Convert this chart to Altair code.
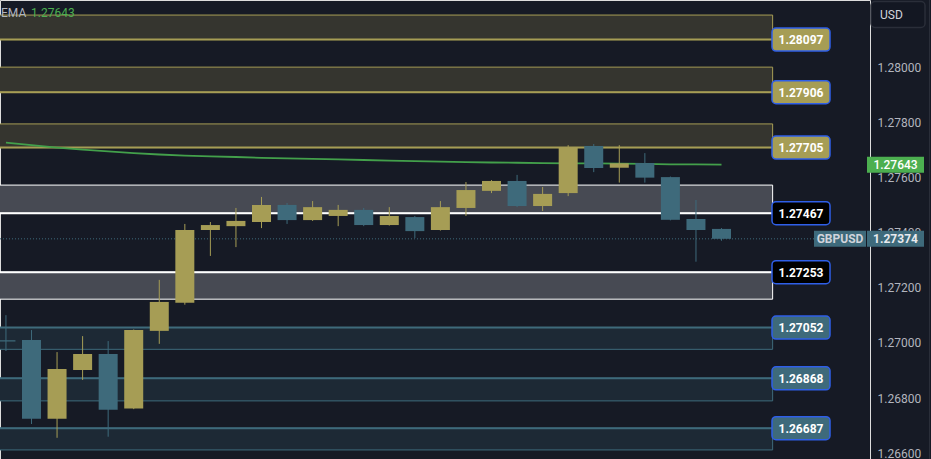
import altair as alt
import pandas as pd

# ---------------- data ----------------
idx = list(range(29))
opens = [1.27006, 1.27007, 1.26721, 1.26898, 1.26956, 1.26758, 1.27040, 1.27142, 1.27406, 1.27420,
         1.27435, 1.27497, 1.27442, 1.27457, 1.27479, 1.27424, 1.27453, 1.27406, 1.27486, 1.27548,
         1.27584, 1.27493, 1.27540, 1.27711, 1.27632, 1.27649, 1.27598, 1.27446, 1.27410]
highs = [1.27097, 1.27043, 1.26963, 1.27021, 1.27003, 1.27045, 1.27225, 1.27428, 1.27435, 1.27486,
         1.27526, 1.27504, 1.27511, 1.27497, 1.27486, 1.27489, 1.27457, 1.27511, 1.27580, 1.27587,
         1.27606, 1.27562, 1.27714, 1.27718, 1.27714, 1.27685, 1.27600, 1.27515, 1.27413]
lows = [1.26967, 1.26702, 1.26652, 1.26862, 1.26656, 1.26756, 1.26993, 1.27135, 1.27312, 1.27344,
        1.27413, 1.27428, 1.27439, 1.27420, 1.27420, 1.27422, 1.27377, 1.27404, 1.27457, 1.27540,
        1.27489, 1.27475, 1.27529, 1.27616, 1.27578, 1.27578, 1.27441, 1.27291, 1.27367]
closes = [1.27001, 1.26721, 1.26902, 1.26956, 1.26754, 1.27043, 1.27145, 1.27406, 1.27424, 1.27439,
          1.27497, 1.27442, 1.27489, 1.27479, 1.27424, 1.27457, 1.27402, 1.27489, 1.27551, 1.27584,
          1.27493, 1.27537, 1.27707, 1.27631, 1.27648, 1.27596, 1.27443, 1.27406, 1.27374]
ema = [1.27723, 1.27714, 1.27705, 1.27698, 1.27691, 1.27685, 1.27680, 1.27676, 1.27673, 1.27671,
       1.27668, 1.27666, 1.27664, 1.27662, 1.27660, 1.27658, 1.27656, 1.27654, 1.27652, 1.27651,
       1.27650, 1.27649, 1.27648, 1.27648, 1.27647, 1.27646, 1.27644, 1.27644, 1.27643]

zone_tops = [1.28186, 1.27997, 1.27791, 1.27569, 1.27253, 1.27052, 1.26868, 1.26687]
zone_bottoms = [1.28097, 1.27906, 1.27705, 1.27467, 1.27155, 1.26973, 1.26786, 1.26608]
zone_levels = [1.28097, 1.27906, 1.27705, 1.27467, 1.27253, 1.27052, 1.26868, 1.26687]
zone_kinds = ["res", "res", "res", "mid", "mid", "sup", "sup", "sup"]
zone_start, zone_end = -1, 30

axis_ticks = [1.266, 1.268, 1.270, 1.272, 1.274, 1.276, 1.278, 1.280]
last_price = 1.27374
ema_last = 1.27643
symbol = "GBPUSD"
currency = "USD"

# ---------------- styles ----------------
BG = "#161a25"
BULL = "#a69d55"
BEAR = "#3e6a7b"
FONT = "Roboto"
kind_dom = ["res", "mid", "sup"]
zone_fill = ["#35352f", "#474a53", "#1d2935"]
zone_line = ["#a69d55", "#ffffff", "#3e6a7b"]
label_fill = ["#a69d55", "#000000", "#3e6a7b"]

xs = alt.Scale(domain=[-0.2324, 33.81], nice=False, zero=False)
ys = alt.Scale(domain=[1.265751, 1.282406], nice=False, zero=False)
yax = alt.Axis(orient="right", values=axis_ticks, format=".5f", labelColor="#b2b5be",
               labelFontSize=12, labelFont=FONT, domain=False, ticks=False, tickSize=0,
               grid=False, labelPadding=7, labelAlign="left", title=None, labelOffset=1)

candles = pd.DataFrame({"i": idx, "open": opens, "high": highs, "low": lows, "close": closes, "ema": ema})
candles["dir"] = ["up" if c >= o else "down" for o, c in zip(opens, closes)]
zones = pd.DataFrame({"top": zone_tops, "bottom": zone_bottoms, "lvl": zone_levels, "kind": zone_kinds,
                      "x0": [zone_start] * 8, "x1": [zone_end] * 8})
one = pd.DataFrame({"p": [last_price], "e": [ema_last], "sym": [symbol], "cur": [currency]})

X = lambda f: alt.X(f, type="quantitative", scale=xs, axis=None)
Y = lambda f: alt.Y(f, type="quantitative", scale=ys, axis=yax)
dircol = alt.Color("dir:N", scale=alt.Scale(domain=["up", "down"], range=[BULL, BEAR]), legend=None)

zone_rect = alt.Chart(zones).mark_rect(strokeWidth=1, clip=True).encode(
    x=X("x0"), x2="x1", y=Y("top"), y2="bottom",
    fill=alt.Fill("kind:N", scale=alt.Scale(domain=kind_dom, range=zone_fill), legend=None),
    stroke=alt.Stroke("kind:N", scale=alt.Scale(domain=kind_dom, range=zone_line), legend=None),
)
zone_main = alt.Chart(zones).mark_rule(strokeWidth=2, clip=True).encode(
    x=X("x0"), x2="x1", y=Y("lvl"),
    color=alt.Color("kind:N", scale=alt.Scale(domain=kind_dom, range=zone_line), legend=None),
)
price_line = alt.Chart(one).mark_rule(strokeDash=[1, 2], color=BEAR, strokeWidth=1).encode(
    x=alt.value(0), x2=alt.value(814), y=Y("p"))
ema_line = alt.Chart(candles).mark_line(color="#43a04b", strokeWidth=1.8).encode(
    x=X("i"), y=Y("ema"))
wicks = alt.Chart(candles).mark_rule(strokeWidth=1).encode(
    x=X("i"), y=Y("low"), y2="high", color=dircol)
bodies = alt.Chart(candles).mark_rect(xOffset=-9.5, x2Offset=9.5).encode(
    x=X("i"), x2="i", y=Y("open"), y2="close", color=dircol)

lab_box = alt.Chart(zones).mark_rect(cornerRadius=4, stroke="#2f5fe8", strokeWidth=1.5,
                                     yOffset=-11.5, y2Offset=11.5).encode(
    x=alt.value(772), x2=alt.value(830), y=Y("lvl"), y2="lvl",
    fill=alt.Fill("kind:N", scale=alt.Scale(domain=kind_dom, range=label_fill), legend=None),
)
lab_txt = alt.Chart(zones).mark_text(font=FONT, fontSize=12, fontWeight="bold", color="#ffffff",
                                     align="center", baseline="middle", dy=0.5).encode(
    x=alt.value(801), y=Y("lvl"), text=alt.Text("lvl:Q", format=".5f"))

ema_tag = alt.Chart(one).mark_rect(color="#4caf50", yOffset=-8, y2Offset=8).encode(
    x=alt.value(867), x2=alt.value(924), y=Y("e"), y2="e")
ema_tag_t = alt.Chart(one).mark_text(font=FONT, fontSize=12, fontWeight=500, color="#ffffff",
                                     align="center", baseline="middle", dy=0.5).encode(
    x=alt.value(895.5), y=Y("e"), text=alt.Text("e:Q", format=".5f"))
sym_tag = alt.Chart(one).mark_rect(color=BEAR, yOffset=-8, y2Offset=8).encode(
    x=alt.value(814), x2=alt.value(866), y=Y("p"), y2="p")
sym_tag_t = alt.Chart(one).mark_text(font=FONT, fontSize=12, fontWeight="bold", color="#d1d4dc",
                                     align="center", baseline="middle", dy=0.5).encode(
    x=alt.value(840), y=Y("p"), text="sym:N")
px_tag = alt.Chart(one).mark_rect(color=BEAR, yOffset=-8, y2Offset=8).encode(
    x=alt.value(867), x2=alt.value(924), y=Y("p"), y2="p")
px_tag_t = alt.Chart(one).mark_text(font=FONT, fontSize=12, fontWeight="bold", color="#e8eaee",
                                    align="center", baseline="middle", dy=0.5).encode(
    x=alt.value(895.5), y=Y("p"), text=alt.Text("p:Q", format=".5f"))

legend_a = alt.Chart(one).mark_text(font=FONT, fontSize=12, color="#b2b5be", align="left",
                                    baseline="middle").encode(
    x=alt.value(1), y=alt.value(12.5), text=alt.value("EMA"))
legend_b = alt.Chart(one).mark_text(font=FONT, fontSize=12, color="#4caf50", align="left",
                                    baseline="middle").encode(
    x=alt.value(31), y=alt.value(12.5), text=alt.Text("e:Q", format=".5f"))
usd_box = alt.Chart(one).mark_rect(cornerRadius=4, fill="#131722", stroke="#2a2e39", strokeWidth=1.5).encode(
    x=alt.value(871), x2=alt.value(925), y=alt.value(1.5), y2=alt.value(27.5))
usd_txt = alt.Chart(one).mark_text(font=FONT, fontSize=12, color="#d1d4dc", align="left",
                                   baseline="middle").encode(
    x=alt.value(880), y=alt.value(15), text="cur:N")
edge = alt.Chart(one).mark_rule(color="#2a2e39", strokeWidth=1).encode(
    x=alt.value(929.5), y=alt.value(0), y2=alt.value(459))

chart = alt.layer(
    zone_rect, zone_main, price_line, ema_line, wicks, bodies,
    lab_box, lab_txt, ema_tag, ema_tag_t, sym_tag, sym_tag_t, px_tag, px_tag_t,
    legend_a, legend_b, usd_box, usd_txt, edge,
).resolve_scale(
    color="independent", fill="independent", stroke="independent",
).properties(
    width=870, height=459,
    autosize=alt.AutoSizeParams(type="none"),
    padding={"left": 0, "top": 0, "right": 61, "bottom": 0},
    background=BG,
).configure_view(strokeWidth=0, fill=BG).configure(font=FONT)

chart.save("out.html", embed_options={"renderer": "svg", "actions": False})
